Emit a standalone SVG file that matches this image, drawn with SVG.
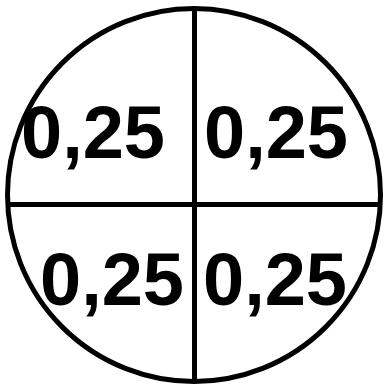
<svg xmlns="http://www.w3.org/2000/svg" width="385" height="385" viewBox="0 0 385 385">
<style>
.ln{stroke:#000;stroke-width:5;fill:none}
.t{font-family:"Liberation Sans",Arial,sans-serif;font-weight:bold;font-size:74px;fill:#000}
</style>
<rect width="385" height="385" fill="#fff"/>
<g id="connectors">
<circle class="ln" cx="194" cy="195" r="186.5"/>
<line class="ln" x1="194.5" y1="8" x2="194.5" y2="382"/>
<line class="ln" x1="8" y1="204.5" x2="381" y2="204.5"/>
</g>
<g id="q1"><text class="t" x="21" y="158">0,25</text></g>
<g id="q2"><text class="t" x="204" y="158">0,25</text></g>
<g id="q3"><text class="t" x="40" y="305">0,25</text></g>
<g id="q4"><text class="t" x="203" y="305">0,25</text></g>
</svg>
